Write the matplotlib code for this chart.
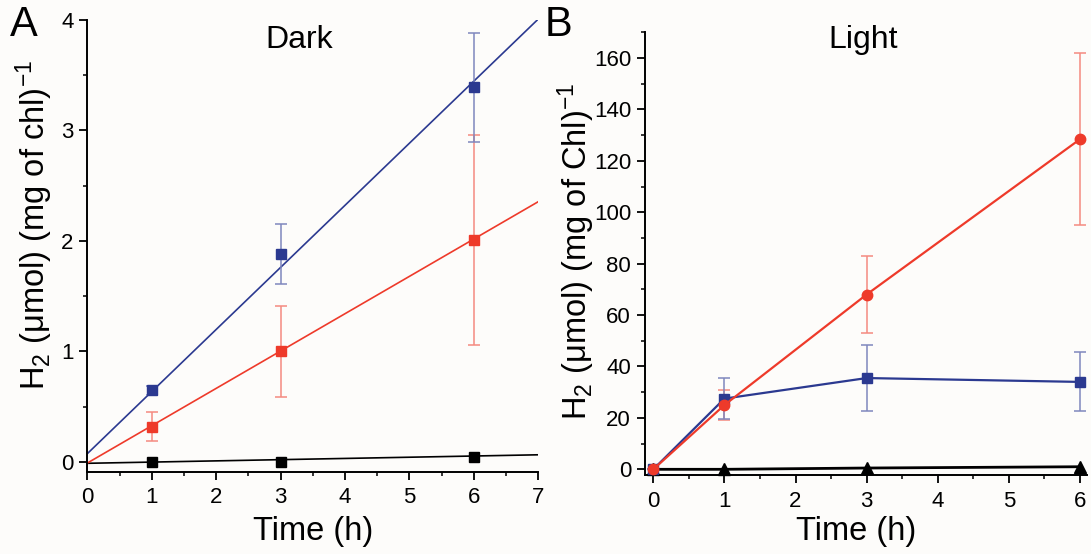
import matplotlib
matplotlib.use("Agg")
import matplotlib.pyplot as plt
import numpy as np
from matplotlib.ticker import MultipleLocator

plt.rcParams['font.family'] = ['Liberation Sans', 'DejaVu Sans']
plt.rcParams['mathtext.fontset'] = 'custom'
plt.rcParams['mathtext.rm'] = 'Liberation Sans'
plt.rcParams['mathtext.it'] = 'Liberation Sans:italic'

# ---------------- data ----------------
# Panel A (Dark)
dark_t = [1, 3, 6]
dark_blue = [0.65, 1.88, 3.39]
dark_blue_err = [0.04, 0.27, 0.49]
dark_red = [0.32, 1.00, 2.01]
dark_red_err = [0.13, 0.41, 0.95]
dark_black = [0.0, 0.0, 0.048]
# linear fits (slope, intercept)
fit_blue = [0.562, 0.075]
fit_red = [0.338, -0.01]
fit_black = [0.011, -0.012]

# Panel B (Light)
light_t = [0, 1, 3, 6]
light_red = [0.0, 25.0, 68.0, 128.4]
light_red_err = [0.0, 5.8, 15.0, 33.5]
light_blue = [0.0, 27.5, 35.5, 34.0]
light_blue_err = [0.0, 8.0, 13.0, 11.5]
light_black = [0.0, 0.0, 0.5, 1.0]

BLUE = '#2b3990'
RED = '#ee3a2a'
BLUE_ERR = '#7f87bd'
RED_ERR = '#f58a80'
BG = '#fdfcfa'

W, H = 1091, 554
fig = plt.figure(figsize=(W / 100, H / 100), dpi=100, facecolor=BG)

def px_axes(left, top, right, bottom):
    return fig.add_axes([left / W, 1 - bottom / H, (right - left) / W, (bottom - top) / H])

def style(ax):
    ax.set_facecolor(BG)
    for s in ['top', 'right']:
        ax.spines[s].set_visible(False)
    for s in ['left', 'bottom']:
        ax.spines[s].set_linewidth(1.4)
    ax.tick_params(which='major', direction='out', length=6, width=1.3,
                   labelsize=16, pad=4)
    ax.tick_params(axis='x', which='major', pad=5)
    ax.tick_params(which='minor', direction='out', length=3.2, width=1.1)

# ---------------- Panel A ----------------
axA = px_axes(87.3, 20, 538.3, 471.7)
style(axA)
axA.set_xlim(0, 7)
axA.set_ylim(-0.088, 4)
axA.xaxis.set_major_locator(MultipleLocator(1))
axA.xaxis.set_minor_locator(MultipleLocator(0.5))
axA.yaxis.set_major_locator(MultipleLocator(1))
axA.yaxis.set_minor_locator(MultipleLocator(0.5))

xfit = np.array([0, 7])
for (slope, icpt), col in [(fit_black, 'black'), (fit_red, RED), (fit_blue, BLUE)]:
    axA.plot(xfit, slope * xfit + icpt, color=col, lw=1.2, zorder=2, clip_on=True)

axA.errorbar(dark_t, dark_red, yerr=dark_red_err, fmt='none', ecolor=RED_ERR,
             elinewidth=1.1, capsize=4, capthick=1.1, zorder=3)
axA.errorbar(dark_t, dark_blue, yerr=dark_blue_err, fmt='none', ecolor=BLUE_ERR,
             elinewidth=1.1, capsize=4, capthick=1.1, zorder=3)
axA.plot(dark_t, dark_red, 's', color=RED, ms=6.5, zorder=4, lw=0)
axA.plot(dark_t, dark_blue, 's', color=BLUE, ms=6.5, zorder=4, lw=0)
axA.plot(dark_t, dark_black, 's', color='black', ms=6.5, zorder=4, lw=0)

# ---------------- Panel B ----------------
axB = px_axes(645, 32.3, 1086.7, 475.3)
style(axB)
axB.set_xlim(-0.117, 6.095)
axB.set_ylim(-2.33, 170)
axB.xaxis.set_major_locator(MultipleLocator(1))
axB.xaxis.set_minor_locator(MultipleLocator(0.5))
axB.yaxis.set_minor_locator(MultipleLocator(10))
axB.set_yticks(np.arange(0, 161, 20))

axB.errorbar(light_t, light_red, yerr=light_red_err, fmt='none', ecolor=RED_ERR,
             elinewidth=1.1, capsize=4, capthick=1.1, zorder=2)
axB.errorbar(light_t, light_blue, yerr=light_blue_err, fmt='none', ecolor=BLUE_ERR,
             elinewidth=1.1, capsize=4, capthick=1.1, zorder=2)
axB.plot(light_t, light_black, '-^', color='black', lw=2.0, ms=8, zorder=3, clip_on=False)
axB.plot(light_t, light_blue, '-s', color=BLUE, lw=1.6, ms=6.5, zorder=4, clip_on=False)
axB.plot(light_t, light_red, '-o', color=RED, lw=1.6, ms=7.5, zorder=5, clip_on=False)

# ---------------- text ----------------
ylab_A = r'H$_2$ (μmol) (mg of chl)$^{\mathrm{-1}}$'
ylab_B = r'H$_2$ (μmol) (mg of Chl)$^{\mathrm{-1}}$'
fig.text(34 / W, 1 - 225 / H, ylab_A, rotation=90, ha='center', va='center', fontsize=23.5)
fig.text(576 / W, 1 - 251 / H, ylab_B, rotation=90, ha='center', va='center', fontsize=23.5)
fig.text(313 / W, 1 - 540 / H, 'Time (h)', ha='center', va='baseline', fontsize=23.5)
fig.text(856 / W, 1 - 540 / H, 'Time (h)', ha='center', va='baseline', fontsize=23.5)
fig.text(299 / W, 1 - 40 / H, 'Dark', ha='center', va='center', fontsize=23)
fig.text(863 / W, 1 - 40 / H, 'Light', ha='center', va='center', fontsize=23)
fig.text(24 / W, 1 - 25 / H, 'A', ha='center', va='center', fontsize=30)
fig.text(559 / W, 1 - 25 / H, 'B', ha='center', va='center', fontsize=30)

fig.savefig('out.png', dpi=100, facecolor=BG)
